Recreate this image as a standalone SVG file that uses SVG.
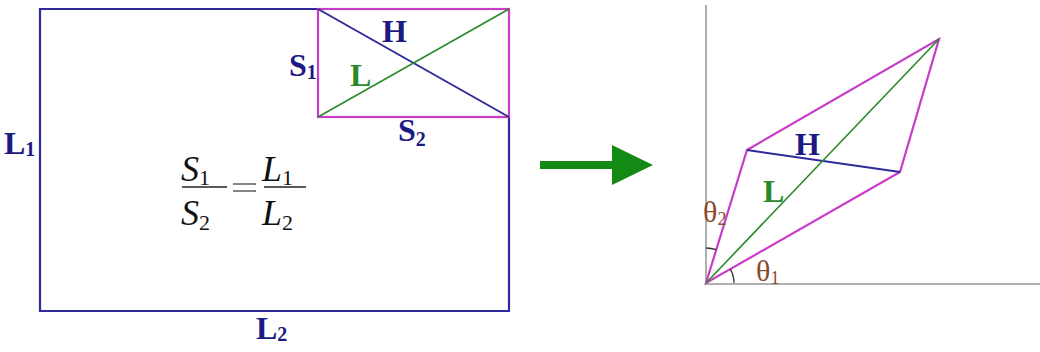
<svg xmlns="http://www.w3.org/2000/svg" width="1040" height="352" viewBox="0 0 1040 352">
<style>
.blue{stroke:#2e2a9a;stroke-width:2.2;fill:none}
.mag{stroke:#c83cc8;stroke-width:2.2;fill:none}
.grn{stroke:#2a8a2a;stroke-width:1.6;fill:none}
.dia{stroke:#2e2a9a;stroke-width:2;fill:none}
.axis{stroke:#b0b0b0;stroke-width:2;fill:none}
.arc{stroke:#333;stroke-width:1.3;fill:none}
.lbl{font-family:"Liberation Serif",serif;font-weight:bold;font-size:32px;fill:#1c1a80}
.lg{font-family:"Liberation Serif",serif;font-weight:bold;font-size:32px;fill:#2a8a2a}
.sub{font-size:20px}
.math{font-family:"Liberation Serif",serif;font-style:italic;font-size:36px;fill:#111}
.msub{font-style:normal;font-size:22px}
.th{font-family:"Liberation Serif",serif;font-size:30px;fill:#8b4a2a}
.thsub{font-size:18px}
</style>
<rect width="1040" height="352" fill="#ffffff"/>
<g id="big-rect">
<path class="blue" d="M318 9 H40 V311 H509 V117"/>
<text class="lbl" x="4" y="154">L<tspan class="sub" dy="2">1</tspan></text>
<text class="lbl" x="256" y="339">L<tspan class="sub" dy="2">2</tspan></text>
</g>
<g id="small-rect">
<rect class="mag" x="318" y="9" width="191" height="108"/>
<line class="dia" x1="318" y1="9" x2="509" y2="117"/>
<line class="grn" x1="318" y1="117" x2="509" y2="9"/>
<text class="lbl" x="382" y="42">H</text>
<text class="lbl" x="289" y="76">S<tspan class="sub" dy="3">1</tspan></text>
<text class="lg" x="350" y="86">L</text>
<text class="lbl" x="398" y="141">S<tspan class="sub" dy="5">2</tspan></text>
</g>
<g id="formula">
<text class="math" x="181" y="181">S<tspan class="msub" dy="4">1</tspan></text>
<line x1="182" y1="187" x2="227" y2="187" stroke="#222" stroke-width="1.4"/>
<text class="math" x="181" y="225">S<tspan class="msub" dy="5">2</tspan></text>
<line x1="233" y1="184" x2="256" y2="184" stroke="#444" stroke-width="1.3"/>
<line x1="233" y1="191" x2="256" y2="191" stroke="#444" stroke-width="1.3"/>
<text class="math" x="262" y="181">L<tspan class="msub" dy="4">1</tspan></text>
<line x1="264" y1="187" x2="306" y2="187" stroke="#222" stroke-width="1.4"/>
<text class="math" x="262" y="225">L<tspan class="msub" dy="5">2</tspan></text>
</g>
<g id="arrow">
<path d="M540 161 H612 V145 L653 165 L612 185 V169 H540 Z" fill="#138a13"/>
</g>
<g id="axes">
<line class="axis" x1="706" y1="5" x2="706" y2="284"/>
<line class="axis" x1="705" y1="284" x2="1040" y2="284"/>
</g>
<g id="parallelogram">
<path class="mag" d="M706 283 L747 150 L939 39 L900 172 Z"/>
<line class="dia" x1="747" y1="150" x2="900" y2="172"/>
<line class="grn" x1="706" y1="283" x2="939" y2="39"/>
<text class="lbl" x="795" y="155">H</text>
<text class="lg" x="763" y="202">L</text>
<path class="arc" d="M706 248 A35 35 0 0 1 716.3 249.6"/>
<path class="arc" d="M730.3 269.1 A28 28 0 0 1 734 283"/>
<text class="th" x="703" y="222">θ<tspan class="thsub" dy="3">2</tspan></text>
<text class="th" x="756" y="281">θ<tspan class="thsub" dy="3">1</tspan></text>
</g>
</svg>
